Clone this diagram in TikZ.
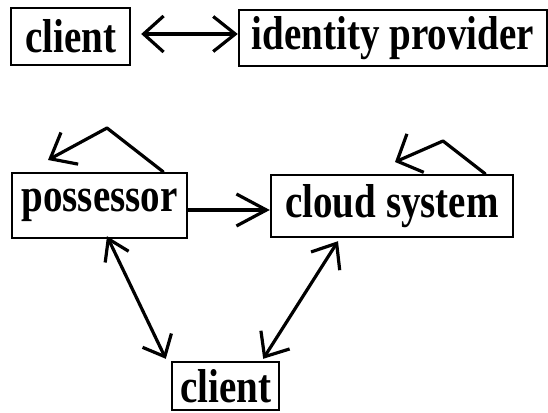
\documentclass[tikz,border=0pt]{standalone}
\usepackage{fontspec}
\usepackage{graphicx}
\setmainfont{Liberation Serif}
\usetikzlibrary{arrows.meta}
\newcommand\vstretch[1]{\scalebox{1}[1.22]{#1}}
\begin{document}
\begin{tikzpicture}[x=1pt,y=-1pt,
  box/.style={draw, line width=2.4pt, inner sep=0pt,
    font=\fontsize{39}{41}\selectfont\bfseries},
  conn/.style={draw, line width=3.2pt, line cap=round, line join=round}]
\useasboundingbox (0,0) rectangle (548,412);
\node[box, minimum width=119pt, minimum height=57pt] (client1) at (70.5,36.5) {\vstretch{client}};
\node[box, minimum width=308pt, minimum height=56pt] (idp) at (393,38) {\vstretch{identity provider}};
\node[box, minimum width=175pt, minimum height=65pt] (possessor) at (99.5,205.5) {\vstretch{possessor}};
\node[box, minimum width=242pt, minimum height=62pt] (cloud) at (392,206) {\vstretch{cloud system}};
\node[box, minimum width=107pt, minimum height=48pt] (client2) at (225.5,386) {\vstretch{client}};
\coordinate (pk1) at (107,128);
\coordinate (tp1) at (48,160);
\coordinate (pk2) at (443,141);
\coordinate (tp2) at (395,162);
\path[{Straight Barb[length=20pt,width=36pt]}-{Straight Barb[length=22pt,width=35pt]}, conn]
  ([xshift=10pt,yshift=2.5pt]client1.east) -- ([yshift=4pt]idp.west);
\path[-{Straight Barb[length=30pt,width=32pt]}, conn]
  ([yshift=-4.5pt]possessor.east) -- ([yshift=-4pt]cloud.west);
\path[-{Straight Barb[length=22pt,width=36pt]}, conn]
  ([xshift=-25pt]possessor.north east) -- (pk1) -- (tp1);
\path[-{Straight Barb[length=20pt,width=42pt]}, conn]
  ([xshift=-29pt]cloud.north east) -- (pk2) -- (tp2);
\path[{Straight Barb[length=20pt,width=26pt]}-{Straight Barb[length=18pt,width=32pt]}, conn]
  ([xshift=7.5pt,yshift=3pt]possessor.south) -- ([xshift=-5pt,yshift=2pt]client2.north west);
\path[{Straight Barb[length=21pt,width=34pt]}-{Straight Barb[length=20pt,width=34pt]}, conn]
  ([xshift=-54pt,yshift=-3pt]cloud.south) -- ([xshift=-17pt,yshift=2pt]client2.north east);
\end{tikzpicture}
\end{document}
